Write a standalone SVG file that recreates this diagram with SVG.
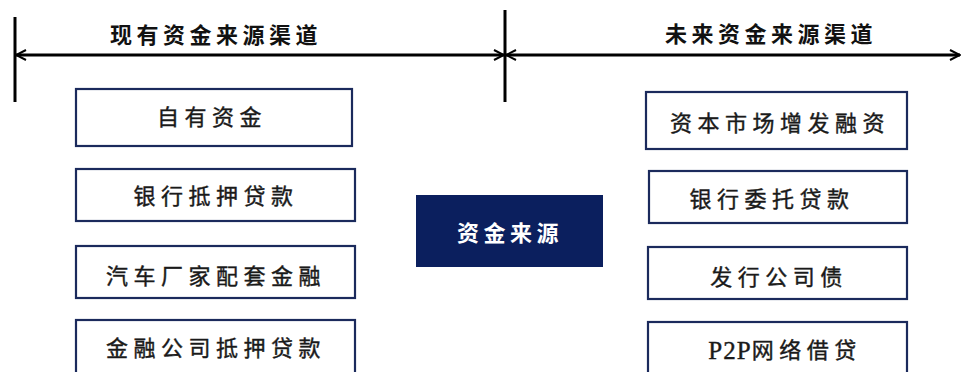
<svg xmlns="http://www.w3.org/2000/svg" width="961" height="372" viewBox="0 0 961 372">
<defs>
<style>
.box{fill:#ffffff;stroke:#1b2a5c;stroke-width:2.2}
.t{font-family:"Liberation Serif","Noto Sans CJK SC",serif;font-size:22px;fill:#1a1a1a;stroke:#1a1a1a;stroke-width:0.4;text-anchor:middle;dominant-baseline:central;letter-spacing:5.5px}
.h{font-family:"Noto Sans CJK SC",sans-serif;font-size:22px;font-weight:bold;fill:#111;text-anchor:middle;dominant-baseline:central;letter-spacing:4.5px}
.dim{stroke:#000;stroke-width:3;fill:none}
</style>
<marker id="ah" viewBox="0 0 12 12" refX="11" refY="6" markerWidth="12" markerHeight="12" markerUnits="userSpaceOnUse" orient="auto-start-reverse">
<path d="M1,1 L11,6 L1,11" fill="none" stroke="#000" stroke-width="2"/>
</marker>
</defs>
<rect width="961" height="372" fill="#ffffff"/>
<g id="connectors">
<line class="dim" x1="15" y1="17" x2="15" y2="102"/>
<line class="dim" x1="505" y1="10" x2="505" y2="102"/>
<line class="dim" x1="16" y1="55" x2="504" y2="55" marker-start="url(#ah)" marker-end="url(#ah)"/>
<line class="dim" x1="506" y1="55" x2="960" y2="55" marker-start="url(#ah)" marker-end="url(#ah)"/>
</g>
<g id="title-left"><text class="h" x="216" y="33">现有资金来源渠道</text></g>
<g id="title-right"><text class="h" x="771" y="32">未来资金来源渠道</text></g>
<g id="n-ziyou"><rect class="box" x="76" y="89" width="276" height="57"/><text class="t" x="212" y="117">自有资金</text></g>
<g id="n-yinhang-diya"><rect class="box" x="76" y="169" width="279" height="52"/><text class="t" x="216" y="196">银行抵押贷款</text></g>
<g id="n-qiche"><rect class="box" x="76" y="246" width="279" height="52"/><text class="t" x="216" y="276">汽车厂家配套金融</text></g>
<g id="n-jinrong"><rect class="box" x="76" y="320" width="279" height="60"/><text class="t" x="216" y="348">金融公司抵押贷款</text></g>
<g id="n-center"><rect x="416" y="195" width="187" height="72" fill="#0b1f5e"/><text class="h" x="510" y="231" style="fill:#ffffff">资金来源</text></g>
<g id="n-ziben"><rect class="box" x="646" y="92" width="261" height="57"/><text class="t" x="780" y="123">资本市场增发融资</text></g>
<g id="n-weituo"><rect class="box" x="649" y="171" width="258" height="52"/><text class="t" x="772" y="199">银行委托贷款</text></g>
<g id="n-zhai"><rect class="box" x="648" y="247" width="259" height="52"/><text class="t" x="779" y="277">发行公司债</text></g>
<g id="n-p2p"><rect class="box" x="648" y="322" width="259" height="60"/><text class="t" x="785" y="350"><tspan style="letter-spacing:1px;font-size:25px">P2P</tspan>网络借贷</text></g>
</svg>
